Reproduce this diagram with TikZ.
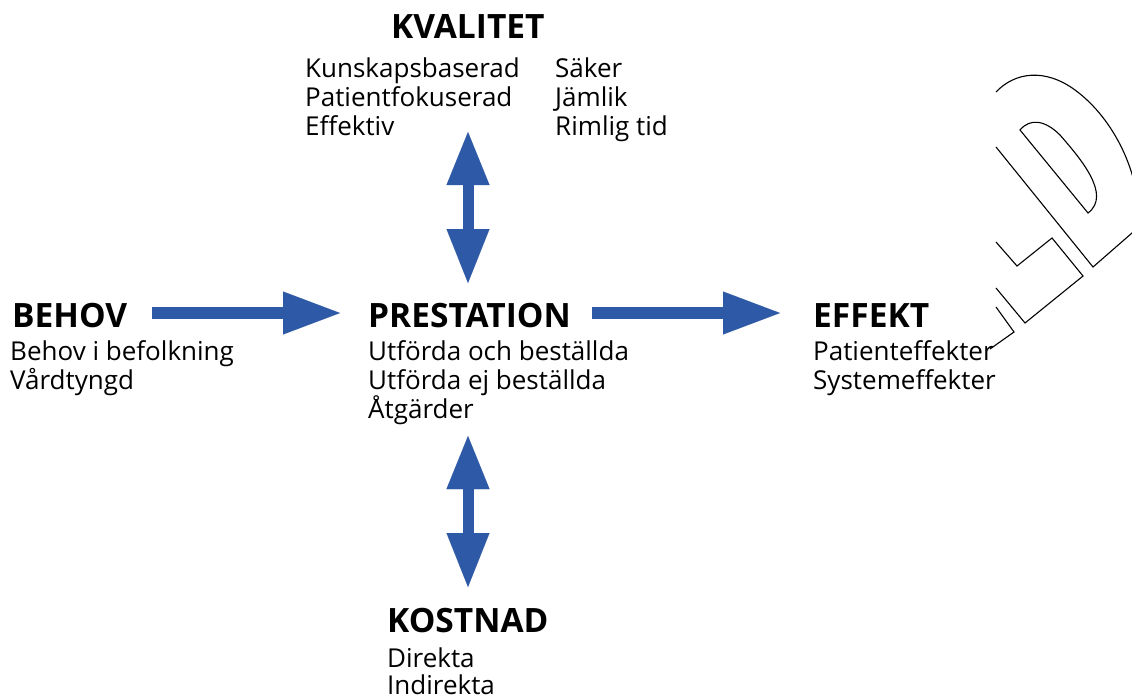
\documentclass[tikz,border=0pt]{standalone}
\usepackage{fontspec}
\setmainfont{Open Sans}
\usetikzlibrary{arrows.meta}
\definecolor{arrowblue}{RGB}{45,89,166}
\tikzset{
  titletext/.style={anchor=base west, inner sep=0pt, font=\fontsize{33.5}{34}\selectfont\bfseries},
  itemtext/.style={anchor=base west, inner sep=0pt, font=\fontsize{26}{29}\selectfont},
  blockarrow/.style={draw=arrowblue, line width=12pt,
    -{Triangle[length=57pt,width=43pt,line width=0.01pt]}},
  dblarrow/.style={draw=arrowblue, line width=11pt,
    {Triangle[length=53pt,width=43pt,line width=0.01pt]}-{Triangle[length=54pt,width=43pt,line width=0.01pt]}},
  stampline/.style={draw=black, line width=1.1pt, line join=miter}
}
\begin{document}
\begin{tikzpicture}[x=1pt,y=-1pt]
\useasboundingbox (0,0) rectangle (1132,699);
\fill[white] (0,0) rectangle (1132,699);

% KVALITET
\node[titletext] (kval) at (391,38) {KVALITET};
\node[itemtext] (kv1) at (305,77) {Kunskapsbaserad};
\node[itemtext] (kv2) at (305,106) {Patientfokuserad};
\node[itemtext] (kv3) at (305,135) {Effektiv};
\node[itemtext] (kv4) at (555,77) {Säker};
\node[itemtext] (kv5) at (555,106) {Jämlik};
\node[itemtext] (kv6) at (555,135) {Rimlig tid};

% BEHOV
\node[titletext] (behov) at (12,327) {BEHOV};
\node[itemtext] (be1) at (10,360) {Behov i befolkning};
\node[itemtext] (be2) at (10,389) {Vårdtyngd};

% PRESTATION
\node[titletext] (prest) at (368,327) {PRESTATION};
\node[itemtext] (pr1) at (368,360) {Utförda och beställda};
\node[itemtext] (pr2) at (368,389) {Utförda ej beställda};
\node[itemtext] (pr3) at (368,418) {Åtgärder};

% EFFEKT
\node[titletext] (effekt) at (813,327) {EFFEKT};
\node[itemtext] (ef1) at (813,360) {Patienteffekter};
\node[itemtext] (ef2) at (813,389) {Systemeffekter};

% KOSTNAD
\node[titletext] (kostnad) at (387,632) {KOSTNAD};
\node[itemtext] (ko1) at (387,667) {Direkta};
\node[itemtext] (ko2) at (387,694) {Indirekta};

% arrows
\coordinate (a1s) at (152,313);
\coordinate (a1e) at (340,313);
\coordinate (a2s) at (592,313);
\coordinate (a2e) at (780,313);
\coordinate (v1s) at (468,132);
\coordinate (v1e) at (468,283);
\coordinate (v2s) at (468,436);
\coordinate (v2e) at (468,587);
\draw[blockarrow] (a1s) -- (a1e);
\draw[blockarrow] (a2s) -- (a2e);
\draw[dblarrow] (v1s) -- (v1e);
\draw[dblarrow] (v2s) -- (v2e);

% stamp
\begin{scope}
\clip (0,0) rectangle (1132,699);
\draw[stampline] (996,92) .. controls (1015,72) and (1045,68) .. (1075,90)
   .. controls (1105,112) and (1128,150) .. (1136,190) -- (1140,226) -- (1093,267) -- (996,147);
\draw[stampline] (1020,130) .. controls (1030,118) and (1045,120) .. (1060,135)
   .. controls (1080,158) and (1112,195) .. (1088,213) -- cycle;
\draw[stampline] (996,242) -- (1017,266) -- (1052,238) -- (1083,276) -- (1025,323) -- (996,288);
\draw[stampline] (996,307) -- (1014,332) -- (990,349);
\end{scope}
\end{tikzpicture}
\end{document}
